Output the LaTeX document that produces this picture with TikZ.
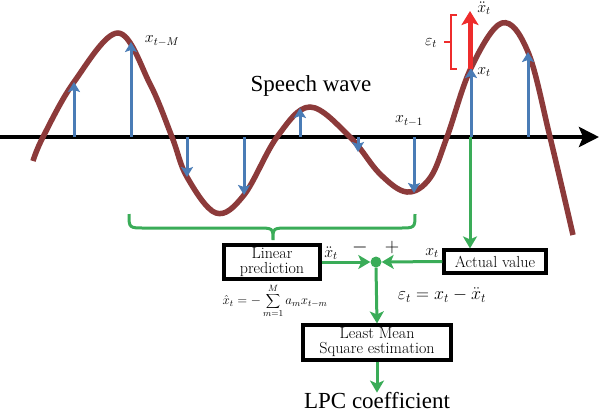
\RequirePackage{fix-cm}
\documentclass[tikz,border=0pt]{standalone}
\usepackage{fontspec}
\newfontfamily\timesf{Liberation Serif}
\usetikzlibrary{arrows.meta}
\definecolor{wavec}{RGB}{140,58,58}
\definecolor{stemc}{RGB}{74,124,182}
\definecolor{grn}{RGB}{58,172,88}
\definecolor{redc}{RGB}{238,44,44}
\tikzset{
  stem/.style={stemc,line width=3pt,-{Stealth[length=10pt,width=12pt,inset=2pt]}},
  garrow/.style={grn,line width=3pt,-{Stealth[length=12pt,width=14pt,inset=3pt]}},
  box/.style={draw=black,line width=3.2pt,inner sep=1pt,align=center,font=\fontsize{16}{15}\selectfont},
  lab/.style={inner sep=0pt,font=\fontsize{16}{18}\selectfont},
  big/.style={inner sep=0pt,font=\timesf\fontsize{23}{26}\selectfont},
}
\begin{document}
\begin{tikzpicture}[x=1pt,y=-1pt]
\useasboundingbox (0,0) rectangle (600,416);
% axis
\coordinate (a0) at (0,137);
\coordinate (a1) at (599,137);
\draw[line width=4pt,-{Stealth[length=20pt,width=20pt,inset=4pt]}] (a0) -- (a1);
% wave
\draw[wavec,line width=5.5pt] plot[smooth,tension=0.6] coordinates {
 (33,161) (43,137) (74,82) (118,33) (150,84) (172,137) (187,177) (216,213) (244,195) (277,137)
 (310,107) (350,137) (380,174) (407,192) (430,178) (447,137) (471,68) (502,23) (528,52) (550,137) (573,235)};
% stems
\foreach \n/\x/\y in {s1/74/82,s2/131/42,s3/187/177,s4/244/195,s5/300/108,s6/358/152,s7/414/193,s8/471/68,s9/528/52}{
  \coordinate (\n b) at (\x,137);
  \coordinate (\n t) at (\x,\y);
  \draw[stem] (\n b) -- (\n t);
}
% red error arrow and bracket
\coordinate (rb) at (470,69);
\coordinate (rt) at (470,11);
\draw[redc,line width=5pt,-{Stealth[length=14pt,width=17pt,inset=3pt]}] (rb) -- (rt);
\coordinate (k1) at (457,15);
\coordinate (k2) at (451,15);
\coordinate (k3) at (451,69);
\coordinate (k4) at (457,69);
\coordinate (km) at (451,42);
\coordinate (kl) at (444,42);
\draw[redc,line width=2pt] (k1) -- (k2) -- (k3) -- (k4);
\draw[redc,line width=2pt] (km) -- (kl);
% labels on wave
\node[lab] (lxm) at (162,41) {$x_{t-M}$};
\node[lab] (lx1) at (409,121) {$x_{t-1}$};
\node[lab] (lxt) at (484,72) {$x_t$};
\node[lab] (lxh) at (484,8) {$\ddot{x}_t$};
\node[lab] (leps) at (431,43) {$\varepsilon_t$};
\node[big] (sw) at (311,86) {Speech wave};
% brace
\draw[grn,line width=3pt] (129,214) .. controls (129,228) .. (145,228) -- (257,228)
  .. controls (273,228) .. (273,240) .. controls (273,228) .. (289,228) -- (399,228)
  .. controls (415,228) .. (415,214);
% boxes
\node[box,minimum width=96pt,minimum height=34pt] (lp) at (272,262) {Linear\\prediction};
\node[box,minimum width=102pt,minimum height=23pt] (av) at (495,261.5) {Actual value};
\node[box,minimum width=148pt,minimum height=35pt] (lms) at (377,342.5) {Least Mean\\Square estimation};
\node[circle,fill=grn,minimum size=11pt,inner sep=0pt] (dot) at (376,262) {};
\node[big] (lpc) at (377,401) {LPC coefficient};
% green connectors
\coordinate (g0) at (470,137);
\draw[garrow] (g0) -- (g0 |- av.north);
\draw[garrow] (lp.east) -- (dot.west);
\draw[garrow] (av.west) -- (dot.east);
\draw[garrow] (dot.south) -- (lms.north);
\draw[garrow] (lms.south) -- (lpc.north);
% signs and labels
\node[lab] (lhat) at (331,253) {$\ddot{x}_t$};
\node[lab] (lxa) at (432,253) {$x_t$};
\node[inner sep=0pt,font=\fontsize{20}{22}\selectfont] (mi) at (360,247) {$-$};
\node[inner sep=0pt,font=\fontsize{20}{22}\selectfont] (pl) at (392,247) {$+$};
\node[inner sep=0pt,font=\fontsize{13}{15}\selectfont] (f1) at (275,301) {$\hat{x}_t=-\displaystyle\sum_{m=1}^{M} a_m x_{t-m}$};
\node[inner sep=0pt,font=\fontsize{18}{20}\selectfont] (f2) at (442,295) {$\varepsilon_t=x_t-\ddot{x}_t$};
\end{tikzpicture}
\end{document}
